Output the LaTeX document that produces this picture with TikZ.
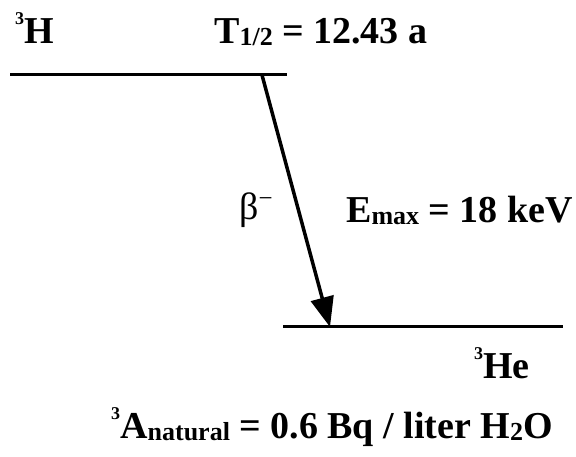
\documentclass[tikz,border=0pt]{standalone}
\usepackage{fontspec}
\setmainfont{Liberation Serif}
\usetikzlibrary{arrows.meta}
\newcommand\lsub[1]{\raisebox{-2pt}{\fontsize{26}{26}\selectfont #1}}
\newcommand\lsup[1]{\raisebox{19pt}{\fontsize{18}{18}\selectfont #1}}
\tikzset{
  lbl/.style={anchor=base west, inner sep=0pt, font=\fontsize{38}{44}\selectfont\bfseries},
  level/.style={line width=3pt},
  decay/.style={line width=3.5pt, -{Triangle[length=30pt,width=23pt]}}
}
\begin{document}
\begin{tikzpicture}[x=1pt,y=-1pt]
\useasboundingbox (0,0) rectangle (576,457);
\coordinate (h1) at (10,75);
\coordinate (h2) at (287,75);
\coordinate (he1) at (283,326);
\coordinate (he2) at (563,326);
\coordinate (start) at (262,75);
\coordinate (end) at (330,327);
\draw[level] (h1) -- (h2);
\draw[level] (he1) -- (he2);
\draw[decay] (start) -- (end);
\node[lbl] (H) at (15,44) {\lsup{3}H};
\node[lbl] (T) at (214,44) {T\lsub{1/2} = 12.43 a};
\node[lbl, font=\fontsize{38}{44}\selectfont] (beta) at (239,220) {β\raisebox{13pt}{\fontsize{25}{25}\selectfont −}};
\node[lbl] (E) at (346,223) {E\lsub{max} = 18 keV};
\node[lbl] (He) at (474,378) {\lsup{3}He};
\node[lbl] (A) at (111,438) {\lsup{3}A\lsub{natural} = 0.6 Bq / liter H\lsub{2}O};
\end{tikzpicture}
\end{document}
